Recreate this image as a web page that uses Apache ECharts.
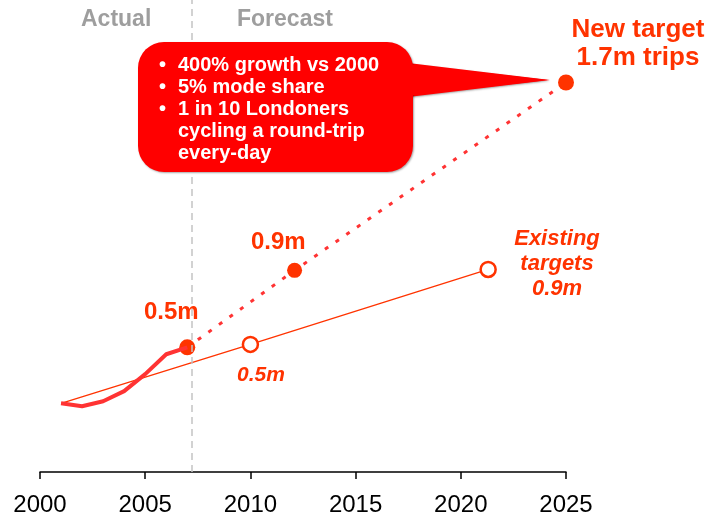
<!DOCTYPE html>
<html>
<head>
<meta charset="utf-8">
<script src="https://cdn.jsdelivr.net/npm/echarts@6/dist/echarts.min.js"></script>
<style>
  html, body { margin: 0; padding: 0; background: #fff; }
  #main { width: 712px; height: 517px; }
</style>
</head>
<body>
<div id="main"></div>
<script>
// data (trips per day, millions; positions are schematic)
var actualYears = [2001, 2002, 2003, 2004, 2005, 2006, 2007];
var actualVals = [0.30, 0.287, 0.309, 0.353, 0.427, 0.514, 0.544];
var newTargetYears = [2007, 2012.1, 2025];
var newTargetVals = [0.544, 0.88, 1.70];
var oldTargetYears = [2001, 2010, 2021.3];
var oldTargetVals = [0.30, 0.557, 0.884];
var splitYear = 2007.2;
var xTicks = [2000, 2005, 2010, 2015, 2020, 2025];

var RED = '#ff3300';
var FONT = '"Liberation Sans", Arial, sans-serif';

function pairs(xs, ys) {
    var out = [];
    for (var i = 0; i < xs.length; i++) out.push([xs[i], ys[i]]);
    return out;
}

var chart = echarts.init(document.getElementById('main'));

var opt = {
    animation: false,
    grid: { left: 40, right: 146, top: 0, bottom: 44 },
    xAxis: {
        type: 'value',
        min: xTicks[0],
        max: xTicks[xTicks.length - 1],
        interval: 5,
        splitLine: { show: false },
        axisLine: { show: true, lineStyle: { color: '#000', width: 1.5 } },
        axisTick: { show: true, length: 7, lineStyle: { color: '#000', width: 1.5 } },
        axisLabel: {
            color: '#000', fontFamily: FONT, fontSize: 24, margin: 21,
            formatter: function (v) { return String(v); }
        }
    },
    yAxis: {
        type: 'value',
        min: 0,
        max: 2.06,
        show: false
    },
    series: [
        {
            // existing targets, thin line
            type: 'line',
            data: pairs(oldTargetYears, oldTargetVals),
            lineStyle: { color: RED, width: 1.3 },
            symbol: 'circle',
            symbolSize: function (v, p) { return p.dataIndex === 0 ? 0 : 15; },
            itemStyle: { color: '#fff', borderColor: RED, borderWidth: 2.5 },
            z: 3,
            markLine: {
                silent: true,
                symbol: 'none',
                label: { show: false },
                lineStyle: { color: '#c4c4c4', type: [7, 5], width: 1.5 },
                data: [{ xAxis: splitYear }]
            }
        },
        {
            // new target trajectory, dotted
            type: 'line',
            data: pairs(newTargetYears, newTargetVals),
            lineStyle: { color: '#ff3333', width: 3, type: [4, 9] },
            symbol: 'circle',
            symbolSize: function (v, p) { return p.dataIndex === 1 ? 15 : 16; },
            itemStyle: { color: RED },
            z: 4
        },
        {
            // actual
            type: 'line',
            data: pairs(actualYears, actualVals),
            lineStyle: { color: '#ff3333', width: 4 },
            symbol: 'none',
            z: 5
        }
    ],
    graphic: [
        { type: 'text', left: 81, top: 8, style: { text: 'Actual', fill: '#9e9e9e', font: 'bold 23px ' + FONT } },
        { type: 'text', left: 237, top: 8, style: { text: 'Forecast', fill: '#9e9e9e', font: 'bold 23px ' + FONT } },
        // callout bubble
        {
            type: 'polygon', z: 10,
            shape: { points: [[400, 62], [550, 80], [400, 98]] },
            style: { fill: '#ff0000', shadowColor: 'rgba(0,0,0,0.35)', shadowBlur: 2, shadowOffsetY: 1 }
        },
        {
            type: 'rect', z: 10,
            shape: { x: 138, y: 42, width: 275, height: 130, r: 26 },
            style: { fill: '#ff0000', shadowColor: 'rgba(0,0,0,0.35)', shadowBlur: 2, shadowOffsetX: 1, shadowOffsetY: 1 }
        },
        {
            type: 'polygon', z: 11,
            shape: { points: [[398, 63], [548, 80], [398, 97]] },
            style: { fill: '#ff0000' }
        },
        {
            type: 'text', left: 159, top: 54, z: 12,
            style: { text: '•\n•\n•', fill: '#fff', font: 'bold 20px ' + FONT, lineHeight: 22 }
        },
        {
            type: 'text', left: 178, top: 54, z: 12,
            style: {
                text: '400% growth vs 2000\n5% mode share\n1 in 10 Londoners\ncycling a round-trip\nevery-day',
                fill: '#fff', font: 'bold 20px ' + FONT, lineHeight: 22
            }
        },
        {
            type: 'text', x: 638, y: 16, z: 12,
            style: { text: 'New target\n1.7m trips', fill: RED, font: 'bold 26px ' + FONT, align: 'center', verticalAlign: 'top', lineHeight: 28 }
        },
        { type: 'text', left: 251, top: 230, style: { text: '0.9m', fill: RED, font: 'bold 24px ' + FONT } },
        { type: 'text', left: 144, top: 300, style: { text: '0.5m', fill: RED, font: 'bold 24px ' + FONT } },
        {
            type: 'text', x: 557, y: 226,
            style: { text: 'Existing\ntargets\n0.9m', fill: RED, font: 'italic bold 22px ' + FONT, align: 'center', verticalAlign: 'top', lineHeight: 25 }
        },
        { type: 'text', left: 237, top: 365, style: { text: '0.5m', fill: RED, font: 'italic bold 21px ' + FONT } }
    ]
};

chart.setOption(opt);
</script>
</body>
</html>
